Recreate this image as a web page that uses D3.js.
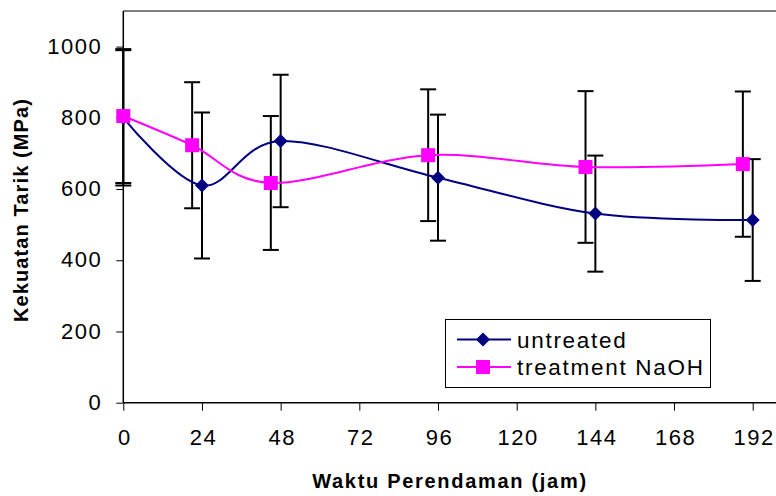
<!DOCTYPE html>
<html>
<head>
<meta charset="utf-8">
<script src="https://cdn.jsdelivr.net/npm/d3@7"></script>
<style>
  body { margin: 0; background: #fff; }
  text { font-family: "Liberation Sans", Arial, sans-serif; }
</style>
</head>
<body>
<div id="chart"></div>
<script>
// data
const hours = [0, 24, 48, 96, 144, 192];
const untreated = [800, 610, 735, 632, 531, 513];
const untreatedErr = [190, 205, 186, 177, 163, 171];
const treatHours = [0, 21, 45, 93, 141, 189];
const treatment = [805, 723, 617, 695, 662, 670];
const treatmentErr = [188, 177, 188, 185, 213, 204];
const xTicks = [0, 24, 48, 72, 96, 120, 144, 168, 192];
const yTicks = [0, 200, 400, 600, 800, 1000];
const seriesNames = ["untreated", "treatment NaOH"];

const W = 776, H = 496;
const plotLeft = 123.3, plotBottom = 402.7, plotTop = 11;

const svg = d3.select("#chart").append("svg")
  .attr("width", W).attr("height", H);

const x = d3.scaleLinear().domain([0, 192]).range([plotLeft, 752.7]);
const y = d3.scaleLinear().domain([0, 1100]).range([plotBottom, plotTop]);

// frame: grey top line, axes
svg.append("line")
  .attr("x1", plotLeft).attr("x2", W).attr("y1", plotTop).attr("y2", plotTop)
  .attr("stroke", "#808080").attr("stroke-width", 2);

const yAxis = svg.append("g")
  .attr("transform", `translate(${plotLeft},0)`)
  .call(d3.axisLeft(y).tickValues(yTicks).tickFormat(d3.format("d"))
    .tickSize(7).tickSizeOuter(0).tickPadding(14));
yAxis.select(".domain").remove();
yAxis.selectAll(".tick line").attr("stroke", "#000");
yAxis.selectAll(".tick text")
  .attr("font-size", 22).attr("letter-spacing", 1.5).attr("fill", "#000")
  .attr("dy", "0.3em");

const xAxis = svg.append("g")
  .attr("transform", `translate(0,${plotBottom})`)
  .call(d3.axisBottom(x).tickValues(xTicks).tickFormat(d3.format("d"))
    .tickSize(8).tickSizeOuter(0).tickPadding(19));
xAxis.select(".domain").remove();
xAxis.selectAll(".tick line").attr("stroke", "#000");
xAxis.selectAll(".tick text")
  .attr("font-size", 22).attr("letter-spacing", 1.5).attr("fill", "#000")
  .attr("dx", 1);

svg.append("line")
  .attr("x1", plotLeft).attr("x2", plotLeft).attr("y1", plotTop).attr("y2", plotBottom)
  .attr("stroke", "#000").attr("stroke-width", 1.5);
svg.append("line")
  .attr("x1", plotLeft).attr("x2", W).attr("y1", plotBottom).attr("y2", plotBottom)
  .attr("stroke", "#000").attr("stroke-width", 1.5);

// axis titles
svg.append("text")
  .attr("x", 450).attr("y", 488)
  .attr("text-anchor", "middle")
  .attr("font-size", 20).attr("font-weight", "bold").attr("letter-spacing", 1.7)
  .text("Waktu Perendaman (jam)");

svg.append("text")
  .attr("transform", "translate(28,210) rotate(-90)")
  .attr("text-anchor", "middle")
  .attr("font-size", 20).attr("font-weight", "bold").attr("letter-spacing", 1.1)
  .text("Kekuatan Tarik (MPa)");

const series = [
  { xs: hours, ys: untreated, err: untreatedErr, color: "#000080", marker: "diamond" },
  { xs: treatHours, ys: treatment, err: treatmentErr, color: "#FF00FF", marker: "square" }
];

// error bars
const cap = 8;
series.forEach(s => {
  const g = svg.append("g").attr("stroke", "#000").attr("stroke-width", 2);
  s.ys.forEach((v, i) => {
    const cx = x(s.xs[i]);
    const hi = y(v + s.err[i]), lo = y(v - s.err[i]);
    g.append("line").attr("x1", cx).attr("x2", cx).attr("y1", hi).attr("y2", lo);
    g.append("line").attr("x1", cx - cap).attr("x2", cx + cap).attr("y1", hi).attr("y2", hi);
    g.append("line").attr("x1", cx - cap).attr("x2", cx + cap).attr("y1", lo).attr("y2", lo);
  });
});

// smoothed lines
const line = d3.line()
  .x(d => x(d[0])).y(d => y(d[1]))
  .curve(d3.curveCardinal.tension(0));

series.forEach(s => {
  svg.append("path")
    .datum(s.xs.map((h, i) => [h, s.ys[i]]))
    .attr("d", line)
    .attr("fill", "none")
    .attr("stroke", s.color).attr("stroke-width", 2);
});

function drawMarker(g, kind, cx, cy, color) {
  const r = 7;
  if (kind === "diamond") {
    g.append("path")
      .attr("d", `M${cx},${cy - r}L${cx + r},${cy}L${cx},${cy + r}L${cx - r},${cy}Z`)
      .attr("fill", color);
  } else {
    g.append("rect")
      .attr("x", cx - r).attr("y", cy - r).attr("width", 2 * r).attr("height", 2 * r)
      .attr("fill", color);
  }
}

series.forEach(s => {
  const g = svg.append("g");
  s.ys.forEach((v, i) => drawMarker(g, s.marker, x(s.xs[i]), y(v), s.color));
});

// legend
const lg = svg.append("g");
lg.append("rect")
  .attr("x", 445.5).attr("y", 319.5).attr("width", 265).attr("height", 68)
  .attr("fill", "#fff").attr("stroke", "#000").attr("stroke-width", 1);
series.forEach((s, i) => {
  const ly = 339.5 + i * 27.5;
  lg.append("line")
    .attr("x1", 457).attr("x2", 511).attr("y1", ly).attr("y2", ly)
    .attr("stroke", s.color).attr("stroke-width", 2);
  drawMarker(lg, s.marker, 483, ly, s.color);
  lg.append("text")
    .attr("x", 517).attr("y", ly + 8)
    .attr("font-size", 22.5).attr("letter-spacing", 1.7)
    .text(seriesNames[i]);
});
</script>
</body>
</html>
